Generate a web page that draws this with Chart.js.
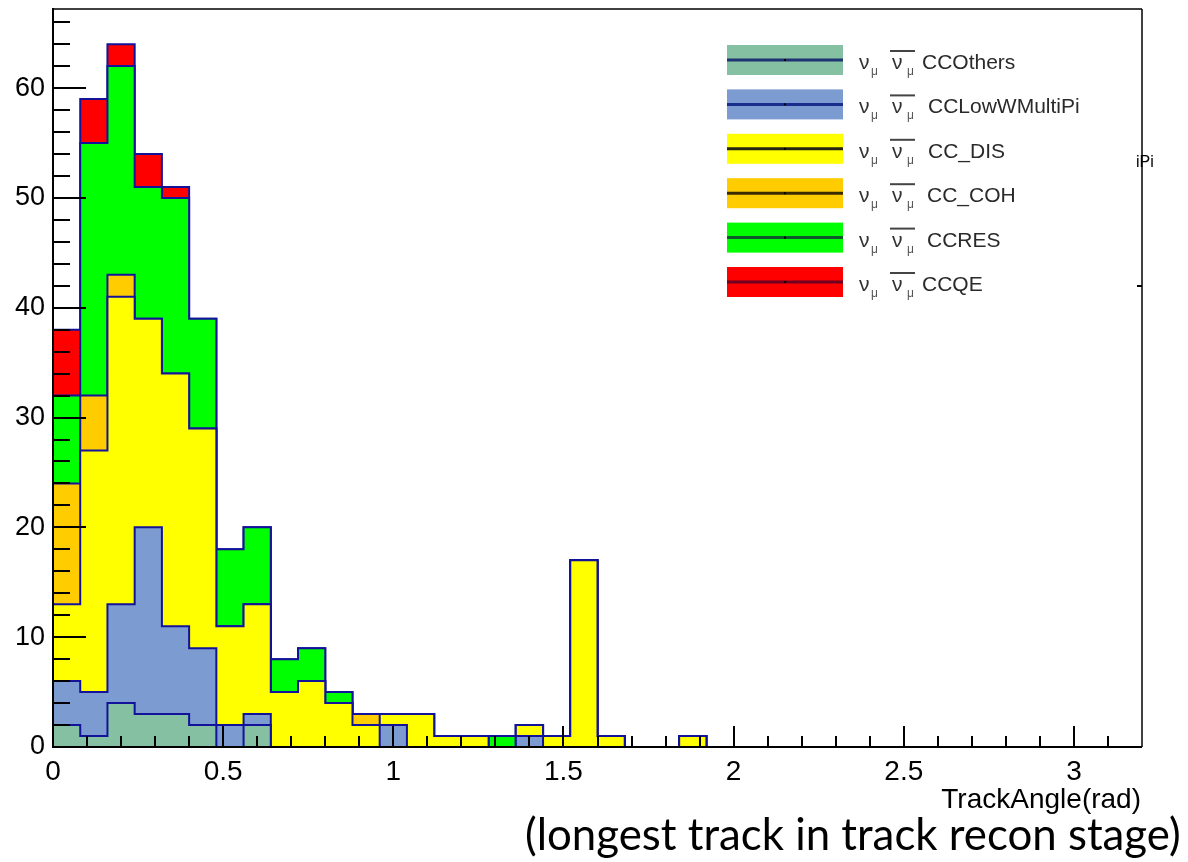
<!doctype html>
<html lang="en">
<head>
<meta charset="UTF-8">
<title>TrackAngle (longest track)</title>
<style>
    body { margin: 0; background: #fff; }
    #wrap { width: 1188px; height: 862px; }
</style>
<script src="https://cdn.jsdelivr.net/npm/chart.js"></script>
</head>
<body>
<div id="wrap"><canvas id="myChart" width="1188" height="862"></canvas></div>
<script>
    // bin edges in rad (40 bins of 0.08)
    const binEdges = [0, 0.08, 0.16, 0.24, 0.32, 0.40, 0.48, 0.56, 0.64, 0.72,
        0.80, 0.88, 0.96, 1.04, 1.12, 1.20, 1.28, 1.36, 1.44, 1.52,
        1.60, 1.68, 1.76, 1.84, 1.92, 2.00, 2.08, 2.16, 2.24, 2.32,
        2.40, 2.48, 2.56, 2.64, 2.72, 2.80, 2.88, 2.96, 3.04, 3.12, 3.20];

    // counts per bin, stacked bottom -> top
    const ccOthers      = [2, 1, 4, 3, 3, 2, 0, 2, 0, 0, 0, 0, 0, 0, 0, 0, 0, 0, 0, 0, 0, 0, 0, 0, 0, 0, 0, 0, 0, 0, 0, 0, 0, 0, 0, 0, 0, 0, 0, 0];
    const ccLowWMultiPi = [4, 4, 9, 17, 8, 7, 2, 1, 0, 0, 0, 0, 2, 0, 0, 0, 0, 1, 0, 0, 0, 0, 0, 0, 0, 0, 0, 0, 0, 0, 0, 0, 0, 0, 0, 0, 0, 0, 0, 0];
    const ccDIS         = [7, 22, 28, 19, 23, 20, 9, 10, 5, 6, 4, 2, 1, 3, 1, 1, 0, 1, 1, 17, 1, 0, 0, 1, 0, 0, 0, 0, 0, 0, 0, 0, 0, 0, 0, 0, 0, 0, 0, 0];
    const ccCOH         = [11, 5, 2, 0, 0, 0, 0, 0, 0, 0, 0, 1, 0, 0, 0, 0, 0, 0, 0, 0, 0, 0, 0, 0, 0, 0, 0, 0, 0, 0, 0, 0, 0, 0, 0, 0, 0, 0, 0, 0];
    const ccRES         = [8, 23, 19, 12, 16, 10, 7, 7, 3, 3, 1, 0, 0, 0, 0, 0, 1, 0, 0, 0, 0, 0, 0, 0, 0, 0, 0, 0, 0, 0, 0, 0, 0, 0, 0, 0, 0, 0, 0, 0];
    const ccQE          = [6, 4, 2, 3, 1, 0, 0, 0, 0, 0, 0, 0, 0, 0, 0, 0, 0, 0, 0, 0, 0, 0, 0, 0, 0, 0, 0, 0, 0, 0, 0, 0, 0, 0, 0, 0, 0, 0, 0, 0];

    const seriesNames = ['CCOthers', 'CCLowWMultiPi', 'CC_DIS', 'CC_COH', 'CCRES', 'CCQE'];
    const seriesValues = [ccOthers, ccLowWMultiPi, ccDIS, ccCOH, ccRES, ccQE];
    const seriesFills = ['#86c0a2', '#7c9bd0', '#ffff00', '#ffcc00', '#00ff00', '#ff0000'];

    const xTickValues = [0, 0.5, 1, 1.5, 2, 2.5, 3];
    const yTickValues = [0, 10, 20, 30, 40, 50, 60];

    const FONT = '"Liberation Sans", Arial, Helvetica, sans-serif';
    const LINE = '#12129a';

    function toSteps(vals) {
        const pts = vals.map((v, i) => ({ x: binEdges[i], y: v }));
        pts.push({ x: binEdges[vals.length], y: 0 });
        return pts;
    }

    function line(ctx, x1, y1, x2, y2) {
        ctx.beginPath();
        ctx.moveTo(x1, y1);
        ctx.lineTo(x2, y2);
        ctx.stroke();
    }

    // ROOT style frame, inward ticks, legend and captions
    const rootFrame = {
        id: 'rootFrame',
        afterDatasetsDraw(chart) {
            const { ctx, chartArea: a, scales: { x, y } } = chart;
            ctx.save();
            ctx.strokeStyle = '#000';
            ctx.lineWidth = 1.5;
            line(ctx, a.left, a.top, a.right, a.top);
            line(ctx, a.right, a.top, a.right, a.bottom);
            ctx.lineWidth = 2;
            line(ctx, a.left, a.top - 1, a.left, a.bottom + 1);
            line(ctx, a.left - 1, a.bottom, a.right, a.bottom);

            ctx.lineWidth = 2;
            for (let v = 0; v <= 66; v += 2) {
                const py = Math.round(y.getPixelForValue(v));
                line(ctx, a.left, py, a.left + (v % 10 === 0 ? 33 : 17), py);
            }
            for (let k = 1; k <= 31; k++) {
                const px = Math.round(x.getPixelForValue(k / 10));
                line(ctx, px, a.bottom, px, a.bottom - (k % 5 === 0 ? 21 : 11));
            }
            // stray tick on the right frame
            line(ctx, a.right - 5, 286, a.right, 286);
            ctx.restore();
        },
        afterDraw(chart) {
            const { ctx } = chart;
            ctx.save();

            // legend
            const lineCols = ['#1f3372', '#1a2d8c', '#262610', '#3a2a00', '#0f5a2a', '#6e0020'];
            const labelX = [922, 928, 928, 927, 927, 922];
            for (let r = 0; r < seriesNames.length; r++) {
                const top = 45 + r * 44.4;
                ctx.fillStyle = seriesFills[r];
                ctx.fillRect(727, top, 116, 30);
                ctx.strokeStyle = lineCols[r];
                ctx.lineWidth = 3;
                line(ctx, 727, top + 15, 843, top + 15);
                ctx.fillStyle = '#000';
                ctx.fillRect(784, top + 14, 2, 2);

                const base = top + 24;
                ctx.fillStyle = '#333';
                ctx.textAlign = 'left';
                ctx.textBaseline = 'alphabetic';
                ctx.font = '21px ' + FONT;
                ctx.fillText('\u03bd', 859, base);
                ctx.fillText('\u03bd', 892, base);
                ctx.font = '12px ' + FONT;
                ctx.fillStyle = '#555';
                ctx.fillText('\u03bc', 871, base + 6);
                ctx.fillText('\u03bc', 907, base + 6);
                ctx.strokeStyle = '#444';
                ctx.lineWidth = 2;
                line(ctx, 890, base - 18, 915, base - 18);
                ctx.fillStyle = '#2a2a2a';
                ctx.font = '21px ' + FONT;
                ctx.fillText(seriesNames[r], labelX[r], base);
            }

            // leftover text of an older legend
            ctx.fillStyle = '#000';
            ctx.font = '16px ' + FONT;
            ctx.fillText('iPi', 1136, 167);

            // axis title
            ctx.font = '28px ' + FONT;
            ctx.textAlign = 'right';
            ctx.fillText('TrackAngle(rad)', 1141, 808);

            // caption
            ctx.textAlign = 'left';
            const cap = '(longest track in track recon stage)';
            let size = 38;
            ctx.font = size + 'px Lato, "Open Sans", sans-serif';
            size = size * 655 / ctx.measureText(cap).width;
            ctx.font = size.toFixed(1) + 'px Lato, "Open Sans", sans-serif';
            ctx.fillText(cap, 525, 850);
            ctx.restore();
        }
    };

    const ctx = document.getElementById('myChart').getContext('2d');
    const chartInstance = new Chart(ctx, {
        type: 'line',
        data: {
            datasets: seriesNames.map((name, i) => ({
                label: name,
                data: toSteps(seriesValues[i]),
                stepped: true,
                backgroundColor: seriesFills[i],
                borderColor: LINE,
                borderWidth: 2,
                borderJoinStyle: 'miter',
                pointRadius: 0,
                fill: i === 0 ? 'origin' : '-1'
            }))
        },
        options: {
            responsive: false,
            animation: false,
            layout: { padding: { left: 0, top: 9, right: 46, bottom: 0 } },
            plugins: {
                legend: { display: false },
                tooltip: { enabled: false }
            },
            scales: {
                x: {
                    type: 'linear',
                    min: 0,
                    max: 3.2,
                    grid: { display: false, drawTicks: false },
                    border: { display: false },
                    afterBuildTicks: s => { s.ticks = xTickValues.map(v => ({ value: v })); },
                    afterFit: s => { s.height = 115; s.paddingLeft = 0; s.paddingRight = 0; },
                    ticks: {
                        padding: 8,
                        maxRotation: 0,
                        autoSkip: false,
                        color: '#000',
                        font: { family: FONT, size: 28 },
                        callback: v => String(v)
                    }
                },
                y: {
                    stacked: true,
                    min: 0,
                    max: 67.2,
                    grid: { display: false, drawTicks: false },
                    border: { display: false },
                    afterBuildTicks: s => { s.ticks = yTickValues.map(v => ({ value: v })); },
                    afterFit: s => { s.width = 53; s.paddingTop = 0; s.paddingBottom = 0; },
                    ticks: {
                        padding: 8,
                        color: '#000',
                        font: { family: FONT, size: 27 },
                        callback: v => String(v)
                    }
                }
            }
        },
        plugins: [rootFrame]
    });
</script>
</body>
</html>
